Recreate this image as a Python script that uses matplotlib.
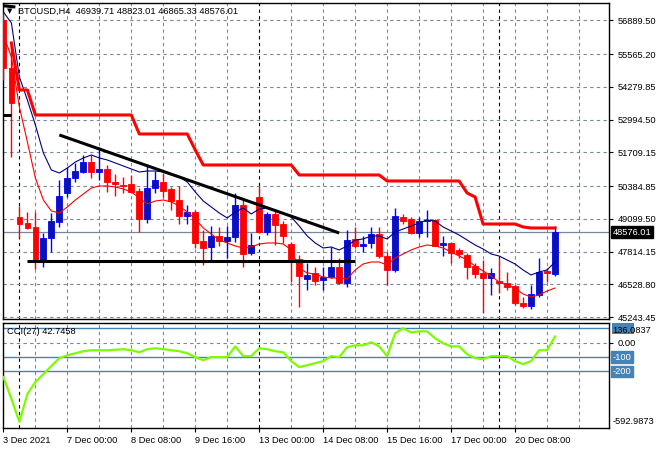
import numpy as np
import matplotlib
matplotlib.use("Agg")
import matplotlib.pyplot as plt
from matplotlib import transforms
from matplotlib.patches import Rectangle

# BTCUSD H4 bars, 3 Dec 2021 16:00 -> 20 Dec 2021
opens = [56901, 55017, 49169, 48934, 48777, 47481, 48345, 48973, 50111, 50700,
         50935, 51328, 50935, 51053, 50543, 50425, 50464, 50190, 49091, 50307,
         50543, 50268, 49836, 49208, 49365, 48227, 47992, 48423, 48227, 48384,
         49640, 47756, 49954, 48580, 49287, 48894, 48109, 47521, 46736, 46971,
         46696, 46814, 47207, 46579, 48306, 48031, 48149, 48502, 47638, 47089,
         49169, 49091, 48541, 49012, 49051, 48070, 48149, 47874, 47678, 47246,
         46971, 46775, 46657, 46579, 46461, 45794, 45676, 46108, 47050, 46939.71]
highs = [57215, 55920, 49601, 49365, 49365, 48541, 49326, 50621, 51132, 51289,
         51603, 51603, 51917, 51210, 50857, 50739, 50818, 50307, 51210, 50975,
         50896, 50347, 50386, 49640, 49444, 48659, 48816, 48777, 48816, 50111,
         49915, 48541, 50386, 49365, 49444, 49012, 48188, 47678, 47364, 47207,
         47207, 47992, 47560, 48659, 48777, 48423, 48777, 48777, 47795, 49522,
         49287, 49169, 49169, 49444, 49091, 48423, 48188, 47952, 47756, 47364,
         47481, 47167, 47560, 47010, 46500, 46029, 46500, 47560, 47167, 48823.01]
lows = [54546, 51524, 48345, 48698, 47128, 47207, 47795, 48777, 49954, 50543,
        50896, 50700, 50621, 50150, 49993, 50111, 50111, 48580, 48934, 50111,
        49954, 49444, 48894, 48894, 47952, 47285, 47403, 48031, 47560, 48188,
        47207, 47678, 48541, 48463, 48070, 48149, 46618, 45637, 46304, 46500,
        46304, 46775, 46539, 46422, 47952, 47795, 47952, 47560, 46500, 47010,
        48894, 48502, 48384, 48384, 48031, 47638, 47364, 47560, 46736, 46775,
        45401, 46108, 46186, 46304, 45715, 45597, 45558, 46029, 46618, 46865.33]
closes = [55017, 53644, 48894, 48737, 47481, 48345, 49012, 49993, 50700, 50975,
          51328, 50935, 51053, 50543, 50464, 50366, 50150, 49091, 50307, 50621,
          50190, 49797, 49208, 49365, 48149, 47952, 48423, 48227, 48384, 49640,
          47717, 48070, 48580, 49287, 48855, 48423, 47521, 46853, 46893, 46657,
          46814, 47207, 46579, 48266, 48031, 48109, 48502, 47638, 47089, 49208,
          49012, 48541, 49012, 49051, 48031, 48149, 47756, 47717, 47207, 46932,
          46775, 46971, 46579, 46422, 45794, 45676, 46147, 47010, 46971, 48576.01]

# indicators
ma_blue = [57215, 56784, 54664, 53761, 52780, 51681, 51014, 50896, 51092, 51328,
           51485, 51603, 51485, 51406, 51289, 51171, 51053, 50935, 50975, 50975,
           50935, 50818, 50739, 50543, 50150, 49797, 49562, 49326, 49130, 49365,
           49522, 49287, 49483, 49522, 49444, 49326, 49169, 48816, 48423, 48149,
           47952, 47992, 47874, 48031, 48266, 48306, 48423, 48423, 48306, 48580,
           48698, 48816, 48934, 49051, 49012, 48777, 48620, 48463, 48266, 48070,
           47913, 47717, 47638, 47481, 47324, 47089, 46893, 47010, 47089, 47403]
ma_red = [56313, 55449, 53487, 52113, 50700, 49836, 49405, 49326, 49562, 49836,
          50072, 50307, 50386, 50386, 50347, 50268, 50150, 49915, 49679, 49797,
          49836, 49758, 49601, 49365, 49091, 48737, 48502, 48266, 48149, 48031,
          47952, 47992, 48109, 48149, 48149, 48109, 47874, 47167, 46971, 46932,
          46814, 46775, 46775, 46736, 47089, 47324, 47403, 47403, 47285, 47560,
          47717, 47874, 47992, 48070, 48031, 47952, 47795, 47638, 47481, 47246,
          47050, 46853, 46618, 46500, 46382, 46147, 46029, 46108, 46264, 46382]
upper_band = [np.nan, 55999, 54154, 54154, 53173, 53173, 53173, 53173, 53173, 53173,
              53173, 53173, 53173, 53173, 53173, 53173, 53173, 52427, 52427, 52427,
              52427, 52427, 52427, 52427, 51799, 51210, 51210, 51210, 51210, 51210,
              51210, 51210, 51210, 51210, 51210, 51210, 51210, 50818, 50818, 50818,
              50818, 50818, 50818, 50818, 50818, 50818, 50818, 50818, 50582, 50582,
              50582, 50582, 50582, 50582, 50582, 50582, 50582, 50582, 50111, 49954,
              48894, 48894, 48894, 48894, 48894, 48777, 48737, 48737, 48737, 48737]
cci = [-239, -391, -550, -357, -274, -219, -163, -108, -88, -74,
       -60, -53, -53, -53, -50, -46, -53, -67, -46, -39,
       -46, -53, -60, -74, -101, -122, -101, -101, -101, -26,
       -94, -94, -39, -46, -60, -67, -129, -170, -157, -143,
       -129, -94, -101, -32, -19, -19, 2, -26, -94, 64,
       99, 71, 78, 78, 30, -5, -26, -26, -81, -108,
       -115, -94, -94, -94, -129, -150, -129, -53, -53, 42.7458]

# drawn objects: (bar start, price start, bar end, price end)
trend_lines = [(7, 52388, 42, 48541), (3, 47454, 44, 47454),
               (-0.1, 57463, 1.5, 57411), (-0.1, 53173, 0.9, 53173)]

price_ticks = [56889.50, 55565.20, 54279.85, 52994.50, 51709.15,
               50384.85, 49099.50, 47814.15, 46528.80, 45243.45]
time_ticks = [0, 8, 16, 24, 32, 40, 48, 56, 64]
time_labels = ["3 Dec 2021", "7 Dec 00:00", "8 Dec 08:00", "9 Dec 16:00",
               "13 Dec 00:00", "14 Dec 08:00", "15 Dec 16:00", "17 Dec 00:00",
               "20 Dec 08:00"]
week_starts = [2, 32, 62]
cci_levels = [100, -100, -200]
last_price = 48576.01

FONT = "Liberation Sans"
FS = 6.7
GRID = "#778899"
LEVEL = "#4682B4"
plt.rcParams['font.family'] = [FONT, 'DejaVu Sans']

fig = plt.figure(figsize=(6.6, 4.5), dpi=100)
ax = fig.add_axes([3 / 660, 1 - 319 / 450, 606 / 660, 316 / 450])
cax = fig.add_axes([3 / 660, 1 - 428 / 450, 606 / 660, 105 / 450])

n = len(opens)
x = np.arange(n)
o = np.array(opens); h = np.array(highs); l = np.array(lows); c = np.array(closes)
up = c >= o
xlim = (-0.05, 75.75)

for a in (ax, cax):
    a.set_xlim(*xlim)
    for gx in range(4, 76, 4):
        if gx not in week_starts:
            a.axvline(gx, color=GRID, lw=0.8, dashes=(3, 3), zorder=0)
    for wx in week_starts:
        a.axvline(wx, color="black", lw=0.8, dashes=(3, 3), zorder=0)
    for s in a.spines.values():
        s.set_color("black")
        s.set_linewidth(1)

# price grid
for p in price_ticks:
    ax.axhline(p, color=GRID, lw=0.8, dashes=(3, 3), zorder=0)
ax.axhline(last_price, color=GRID, lw=0.9, zorder=1)

# candles
body_lo = np.minimum(o, c)
body_h = np.maximum(np.abs(c - o), 40)
ax.vlines(x[up], l[up], h[up], color="#0000FF", lw=1, zorder=3)
ax.vlines(x[~up], l[~up], h[~up], color="#FF0000", lw=1, zorder=3)
ax.bar(x[up], body_h[up], bottom=body_lo[up], width=0.72, color="#0A14A8",
       edgecolor="#0000FF", linewidth=0.6, zorder=4)
ax.bar(x[~up], body_h[~up], bottom=body_lo[~up], width=0.72, color="#FF0000",
       edgecolor="#FF0000", linewidth=0.6, zorder=4)

ax.plot(x, ma_blue, color="#000080", lw=0.8, zorder=5)
ax.plot(x, ma_red, color="#FF0000", lw=0.8, zorder=5)
ax.plot(x, upper_band, color="#FF0000", lw=2.2, zorder=5)
for x0, y0, x1, y1 in trend_lines:
    ax.plot([x0, x1], [y0, y1], color="black", lw=2.2, zorder=6,
            solid_capstyle="butt")

ax.set_ylim(45165, 57568)
ax.set_xticks([])
ax.yaxis.tick_right()
ax.set_yticks(price_ticks, ["%.2f" % p for p in price_ticks])
ax.tick_params(axis="y", length=3, width=0.8, pad=3, labelsize=FS)

trans = transforms.blended_transform_factory(ax.transAxes, ax.transData)
ax.text(1.006, last_price, "%.2f" % last_price, transform=trans, va="center",
        ha="left", color="white", fontsize=FS, zorder=10,
        bbox=dict(boxstyle="square,pad=0.18", fc="black", ec="black"))

fig.text(10 / 660, 1 - 11 / 450, "\u25bc", fontsize=5, va="center", ha="center",
         family="DejaVu Sans", color="black")
fig.text(18 / 660, 1 - 11 / 450, "BTCUSD,H4  46939.71 48823.01 46865.33 48576.01",
         fontsize=FS, va="center", ha="left", color="black")

# CCI panel
cax.axhline(0, color=GRID, lw=0.8, dashes=(3, 3), zorder=0)
for lv in cci_levels:
    cax.axhline(lv, color=LEVEL, lw=1, zorder=1)
cax.plot(x, cci, color="#7CFC00", lw=1.6, zorder=5)
cax.set_ylim(-592.9873, 136.0837)
cax.yaxis.tick_right()
cax.set_yticks([0], ["0.00"])
cax.tick_params(axis="y", length=3, width=0.8, pad=3, labelsize=FS)
ctrans = transforms.blended_transform_factory(cax.transAxes, cax.transData)
for lv in cci_levels[1:]:
    cax.text(1.006, lv, "%d" % lv, transform=ctrans, va="center", ha="left",
             color="white", fontsize=FS, zorder=9,
             bbox=dict(boxstyle="square,pad=0.15", fc=LEVEL, ec=LEVEL))
# level-100 marker sits under the top value label, as in the terminal
cax.add_patch(Rectangle((1.005, 62), 0.036, 76, transform=ctrans, fc=LEVEL,
                        ec="none", clip_on=False, zorder=8))
cax.text(1.006, 0.93, "136.0837", transform=cax.transAxes, va="center",
         ha="left", color="black", fontsize=FS, zorder=10)
cax.text(1.006, 0.06, "-592.9873", transform=cax.transAxes, va="center",
         ha="left", color="black", fontsize=FS)
cax.text(0.007, 0.92, "CCI(27) 42.7458", transform=cax.transAxes, va="center",
         ha="left", color="black", fontsize=FS)

cax.set_xticks(time_ticks, time_labels)
for t in cax.get_xticklabels():
    t.set_horizontalalignment("left")
cax.tick_params(axis="x", length=3, width=0.8, pad=3, labelsize=FS)

fig.savefig("out.png", dpi=100, facecolor="white")
